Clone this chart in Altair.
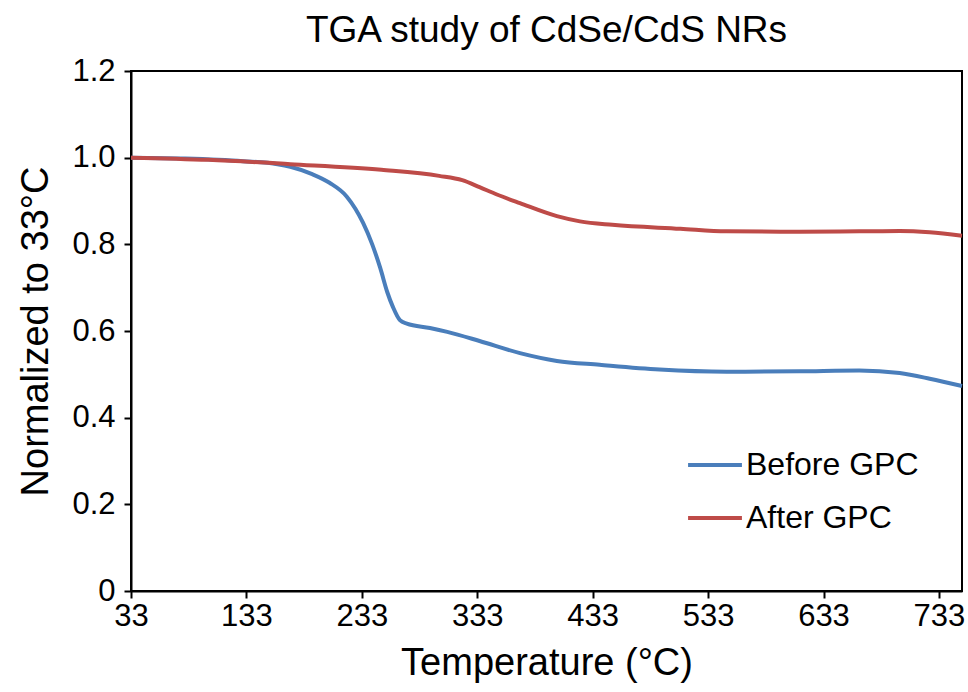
import altair as alt
import pandas as pd

before_T = [33, 80, 130, 160, 171, 190, 205, 220, 234, 242, 249, 255, 260, 266, 272, 292, 307, 335, 370, 402, 439, 491, 549, 612, 664, 699, 725, 753]
before_v = [1.0, 0.998, 0.992, 0.985, 0.979, 0.962, 0.942, 0.91, 0.85, 0.80, 0.745, 0.69, 0.655, 0.625, 0.617, 0.607, 0.598, 0.577, 0.549, 0.531, 0.522, 0.511, 0.506, 0.507, 0.509, 0.503, 0.49, 0.473]
after_T = [33, 100, 171, 250, 300, 320, 335, 350, 370, 402, 422, 450, 509, 549, 612, 664, 699, 725, 753]
after_v = [1.0, 0.995, 0.985, 0.972, 0.958, 0.948, 0.932, 0.915, 0.895, 0.865, 0.853, 0.845, 0.836, 0.83, 0.829, 0.83, 0.831, 0.828, 0.82]
series = ["Before GPC", "After GPC"]
colors = ["#4a7ebb", "#be4b48"]
x_ticks = [33, 133, 233, 333, 433, 533, 633, 733]
y_ticks = [0, 0.2, 0.4, 0.6, 0.8, 1.0, 1.2]

rows = []
for i, (t, v) in enumerate(zip(before_T, before_v)):
    rows.append({"T": t, "v": v, "s": series[0], "o": i})
for i, (t, v) in enumerate(zip(after_T, after_v)):
    rows.append({"T": t, "v": v, "s": series[1], "o": i})
df = pd.DataFrame(rows)

FONT = "Liberation Sans"

chart = alt.Chart(df).mark_line(strokeWidth=4, interpolate="monotone").encode(
    x=alt.X("T:Q", scale=alt.Scale(domain=[33, 753], nice=False, zero=False),
            axis=alt.Axis(values=x_ticks, title="Temperature (°C)", grid=False,
                          domainColor="black", domainWidth=2, tickColor="black",
                          tickWidth=2, tickSize=7, labelFontSize=31, labelColor="black",
                          labelPadding=3, titleFontSize=38, titleFontWeight="normal",
                          titleColor="black", titlePadding=13, labelFont=FONT, titleFont=FONT,
                          labelOverlap=False, labelFlush=False)),
    y=alt.Y("v:Q", scale=alt.Scale(domain=[0, 1.2], nice=False),
            axis=alt.Axis(values=y_ticks, title="Normalized to 33°C", grid=False,
                          labelExpr="datum.value == 0 ? '0' : format(datum.value, '.1f')",
                          domainColor="black", domainWidth=2, tickColor="black",
                          tickWidth=2, tickSize=7, labelFontSize=31, labelColor="black",
                          labelPadding=9, titleFontSize=38, titleFontWeight="normal",
                          titleColor="black", titlePadding=16, labelFont=FONT, titleFont=FONT,
                          labelFlush=False)),
    color=alt.Color("s:N", scale=alt.Scale(domain=series, range=colors),
                    legend=alt.Legend(title=None, orient="none", legendX=555, legendY=365,
                                      symbolType="stroke", symbolSize=2900, symbolStrokeWidth=4,
                                      labelFontSize=32, labelFont=FONT, labelColor="black",
                                      labelLimit=400, rowPadding=8, labelOffset=2)),
    order="o:Q",
).properties(
    width=831, height=520,
    title=alt.TitleParams("TGA study of CdSe/CdS NRs", fontSize=37, font=FONT,
                          fontWeight="normal", color="black", offset=5, anchor="middle"),
    padding={"left": 131, "top": 71, "right": 6, "bottom": 101},
    autosize=alt.AutoSizeParams(type="none"),
).configure_view(stroke="black", strokeWidth=2)

chart.save("out.html", embed_options={"renderer": "svg", "actions": False})
